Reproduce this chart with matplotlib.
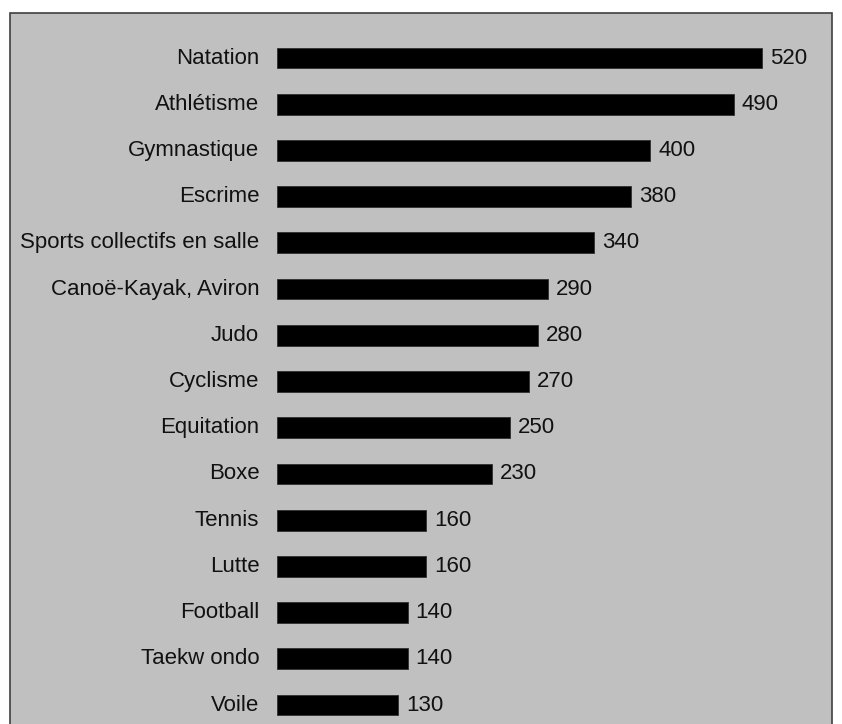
import matplotlib
matplotlib.use("Agg")
import matplotlib.pyplot as plt
from matplotlib.patches import Rectangle

sports = ["Natation", "Athlétisme", "Gymnastique", "Escrime",
          "Sports collectifs en salle", "Canoë-Kayak, Aviron", "Judo",
          "Cyclisme", "Equitation", "Boxe", "Tennis", "Lutte",
          "Football", "Taekw ondo", "Voile"]
values = [520, 490, 400, 380, 340, 290, 280, 270, 250, 230, 160, 160, 140, 140, 130]

plt.rcParams['font.family'] = ['Liberation Sans', 'DejaVu Sans']

W, H = 842, 724
fig = plt.figure(figsize=(W / 100, H / 100), dpi=100)
fig.patch.set_facecolor('white')

# grey panel with dark border, running off the bottom edge
panel = Rectangle((10 / W, -0.05), (832 - 10) / W, (H - 13) / H + 0.05,
                  transform=fig.transFigure, facecolor='#c0c0c0',
                  edgecolor='#404040', linewidth=1.2, zorder=-10)
fig.patches.append(panel)

ax = fig.add_axes([277 / W, 0, (832 - 277) / W, (H - 13) / H])
ax.set_facecolor('none')
pos = list(range(len(sports)))
ax.barh(pos, values, height=0.45, color='black', edgecolor='#303030', linewidth=0.6)

for p, v, name in zip(pos, values, sports):
    ax.text(v + 8.5, p, str(v), va='center', ha='left', fontsize=16, color='#111111')
    ax.text(-19, p, name, va='center', ha='right', fontsize=16, color='#111111')

ax.set_xlim(0, 595)
ax.set_ylim(14.41, -0.974)
ax.axis('off')

fig.savefig('out.png', dpi=100)
